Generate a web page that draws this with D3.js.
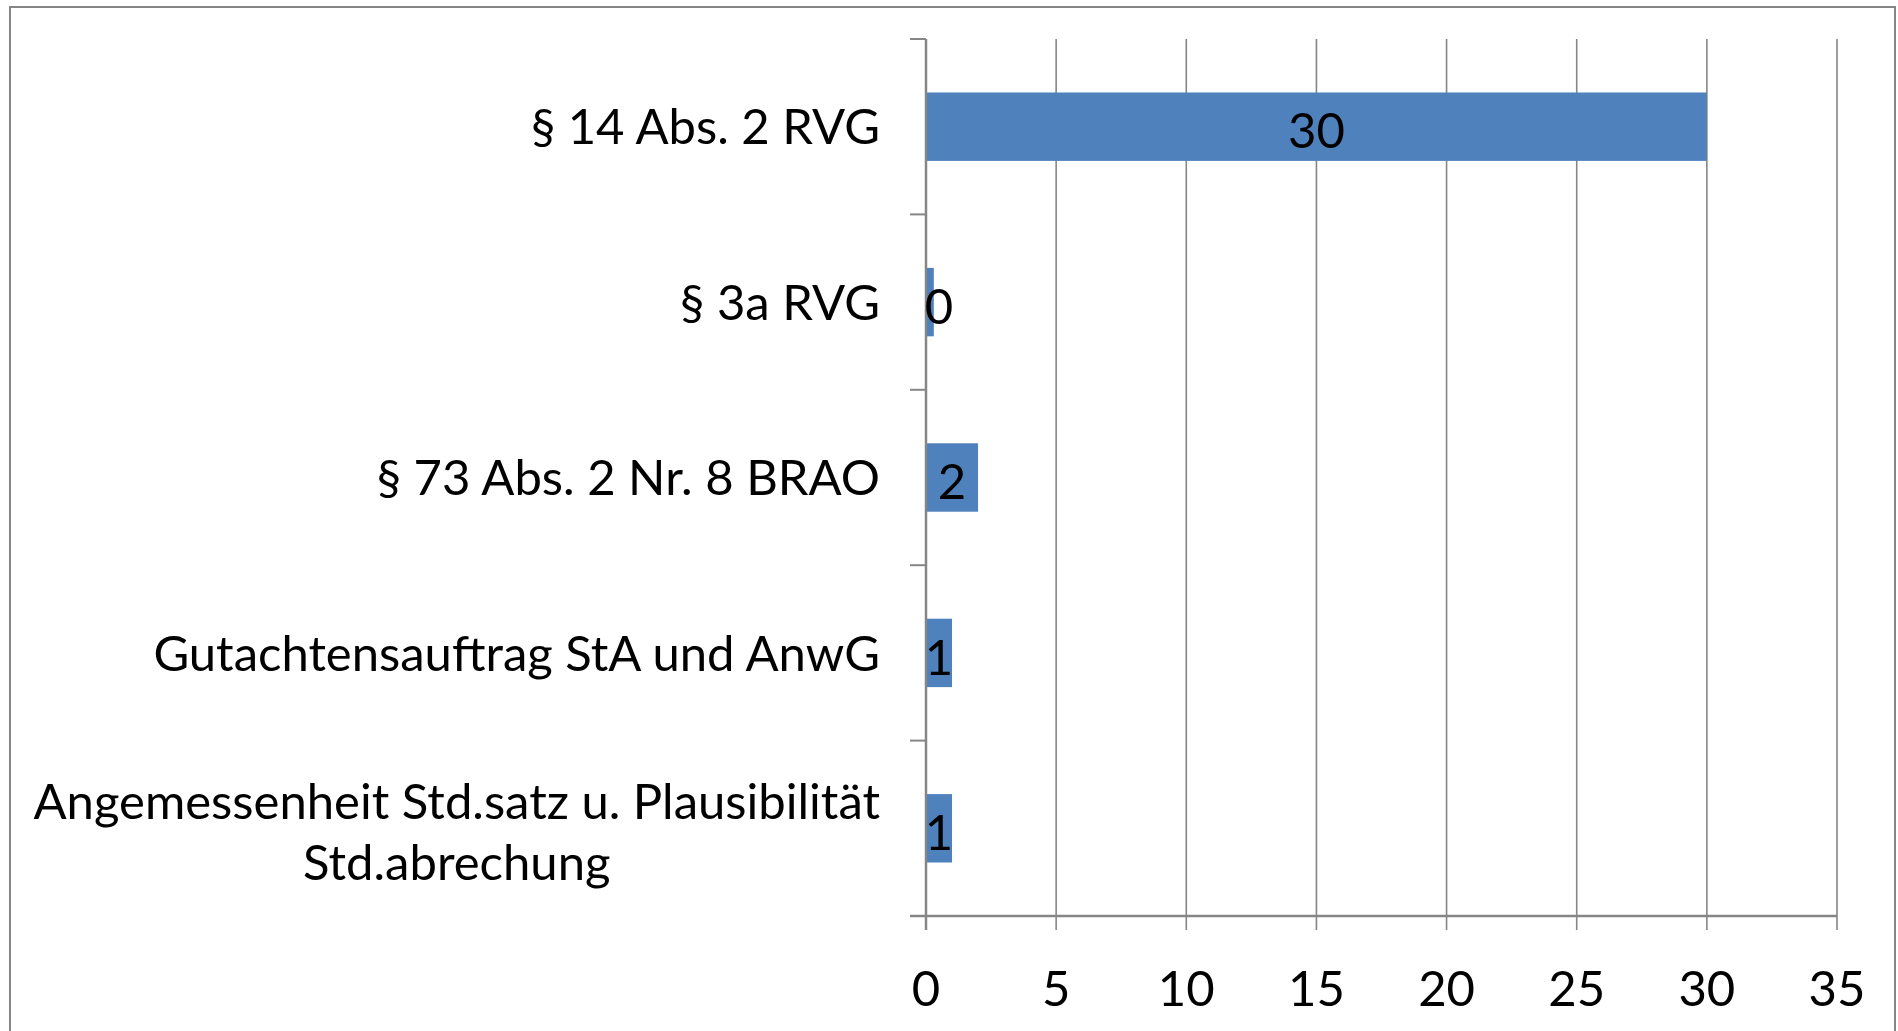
<!DOCTYPE html>
<html>
<head>
<meta charset="utf-8">
<script src="https://cdn.jsdelivr.net/npm/d3@7"></script>
<style>
  body { margin: 0; background: #fff; }
  svg { display: block; }
  text { font-family: Lato, "Open Sans", sans-serif; fill: #000; }
</style>
</head>
<body>
<div id="chart"></div>
<script>
const categories = [
  "§ 14 Abs. 2 RVG",
  "§ 3a RVG",
  "§ 73 Abs. 2 Nr. 8 BRAO",
  "Gutachtensauftrag StA und AnwG",
  "Angemessenheit Std.satz u. Plausibilität Std.abrechung"
];
const values = [30, 0.3, 2, 1, 1];
const xTicks = [0, 5, 10, 15, 20, 25, 30, 35];

const svgWidth = 1898;
const svgHeight = 1031;
const barColor = "#4f81bd";
const axisColor = "#868686";
const fontSize = 49;

const plotLeft = 926, plotRight = 1837;
const plotTop = 39, plotBottom = 916;
const labelRight = 880;

let svg = d3.select("#chart").append("svg")
  .attr("width", svgWidth)
  .attr("height", svgHeight);

// chart frame
svg.append("rect")
  .attr("x", 10)
  .attr("y", 7)
  .attr("width", 1885)
  .attr("height", 1060)
  .attr("fill", "none")
  .attr("stroke", axisColor)
  .attr("stroke-width", 2);

let x = d3.scaleLinear().domain([0, 35]).range([plotLeft, plotRight]);

let y = d3.scaleBand()
  .domain(categories)
  .range([plotTop, plotBottom])
  .paddingInner(0.61)
  .paddingOuter(0.305);
let step = y.step();

// gridlines + x ticks
svg.selectAll("line.grid")
  .data(xTicks.filter(d => d > 0))
  .enter()
  .append("line")
  .attr("class", "grid")
  .attr("x1", d => x(d))
  .attr("x2", d => x(d))
  .attr("y1", plotTop)
  .attr("y2", plotBottom + 14)
  .attr("stroke", axisColor)
  .attr("stroke-width", 1.6);

// bars
svg.selectAll("rect.bar")
  .data(values)
  .enter()
  .append("rect")
  .attr("class", "bar")
  .attr("x", x(0))
  .attr("y", (d, i) => y(categories[i]))
  .attr("width", d => x(d) - x(0))
  .attr("height", y.bandwidth())
  .attr("fill", barColor);

// y axis + category ticks
svg.append("line")
  .attr("x1", x(0)).attr("x2", x(0))
  .attr("y1", plotTop).attr("y2", plotBottom + 14)
  .attr("stroke", axisColor)
  .attr("stroke-width", 2.5);
for (let i = 0; i <= categories.length; i++) {
  let yy = plotTop + i * step;
  svg.append("line")
    .attr("x1", x(0) - 16).attr("x2", x(0))
    .attr("y1", yy).attr("y2", yy)
    .attr("stroke", axisColor)
    .attr("stroke-width", 2);
}
// x axis line
svg.append("line")
  .attr("x1", x(0) - 16).attr("x2", x(35))
  .attr("y1", plotBottom).attr("y2", plotBottom)
  .attr("stroke", axisColor)
  .attr("stroke-width", 2.5);

// x tick labels
svg.selectAll("text.xtick")
  .data(xTicks)
  .enter()
  .append("text")
  .attr("class", "xtick")
  .attr("x", d => x(d))
  .attr("y", 1006)
  .attr("text-anchor", "middle")
  .style("font-size", fontSize + "px")
  .text(d => d);

// category labels (wrapped like Excel)
function wrapLines(str, maxWidth) {
  let probe = svg.append("text").style("font-size", fontSize + "px");
  let words = str.split(" ");
  let lines = [];
  let line = [];
  words.forEach(w => {
    line.push(w);
    probe.text(line.join(" "));
    if (probe.node().getComputedTextLength() > maxWidth && line.length > 1) {
      line.pop();
      lines.push(line.join(" "));
      line = [w];
    }
  });
  lines.push(line.join(" "));
  probe.remove();
  return lines;
}

const lineHeight = 61;
categories.forEach((c, i) => {
  let lines = wrapLines(c, 885);
  let cy = plotTop + (i + 0.5) * step;
  let g = svg.append("text")
    .style("font-size", fontSize + "px");
  if (lines.length === 1) {
    g.attr("x", labelRight)
      .attr("y", cy)
      .attr("dy", "0.36em")
      .attr("text-anchor", "end")
      .text(c);
  } else {
    // block is right-aligned, lines centered inside it
    let probe = svg.append("text").style("font-size", fontSize + "px");
    let widest = d3.max(lines, l => { probe.text(l); return probe.node().getComputedTextLength(); });
    probe.remove();
    let centerX = labelRight - widest / 2;
    g.attr("text-anchor", "middle");
    lines.forEach((l, k) => {
      g.append("tspan")
        .attr("x", centerX)
        .attr("y", cy + (k - (lines.length - 1) / 2) * lineHeight + 4)
        .attr("dy", "0.36em")
        .text(l);
    });
  }
});

// data labels
let fmt = d3.format(".0f");
svg.selectAll("text.val")
  .data(values)
  .enter()
  .append("text")
  .attr("class", "val")
  .attr("x", d => Math.max((x(d) + x(0)) / 2, x(0) + 13))
  .attr("y", (d, i) => y(categories[i]) + y.bandwidth() / 2 + 4)
  .attr("dy", "0.36em")
  .attr("text-anchor", "middle")
  .style("font-size", fontSize + "px")
  .text(d => fmt(d));
</script>
</body>
</html>
